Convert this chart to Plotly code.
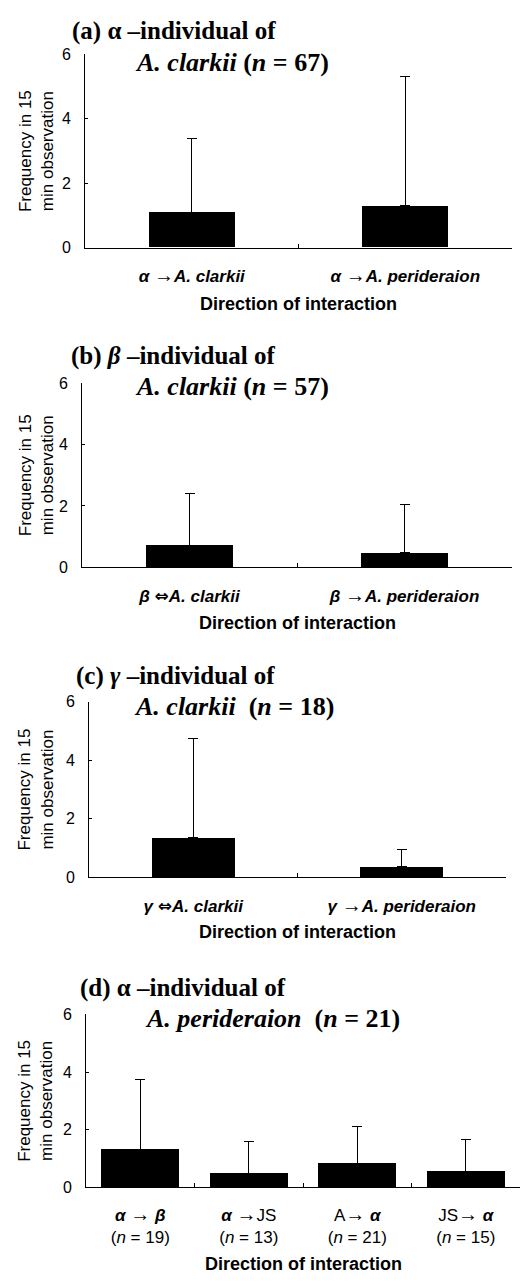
import plotly.graph_objects as go

W, H = 531, 1284

AR = "<span style='font-size:20px'>→</span>"
DA = "<span style='font-family:DejaVu Sans;font-size:17px'>⇔</span>"

# ---------------- data ----------------
cats_a = ["a→clarkii", "a→perideraion"]
mean_a = [1.1, 1.3]
sd_a = [2.3, 4.0]
labels_a = ["<b><i>α</i> " + AR + "<i>A. clarkii</i></b>",
            "<b><i>α</i> " + AR + "<i>A. perideraion</i></b>"]

cats_b = ["b⇔clarkii", "b→perideraion"]
mean_b = [0.72, 0.48]
sd_b = [1.69, 1.57]
labels_b = ["<b><i>β</i> " + DA + "<i>A. clarkii</i></b>",
            "<b><i>β</i> " + AR + "<i>A. perideraion</i></b>"]

cats_c = ["g⇔clarkii", "g→perideraion"]
mean_c = [1.36, 0.36]
sd_c = [3.38, 0.60]
labels_c = ["<b><i>γ</i> " + DA + "<i>A. clarkii</i></b>",
            "<b><i>γ</i> " + AR + "<i>A. perideraion</i></b>"]

cats_d = ["a→b", "a→JS", "A→a", "JS→a"]
mean_d = [1.31, 0.48, 0.82, 0.55]
sd_d = [2.43, 1.11, 1.29, 1.10]
labels_d = ["<b><i>α</i></b> " + AR + " <b><i>β</i></b><br>(<i>n</i> = 19)",
            "<b><i>α</i></b> " + AR + "JS<br>(<i>n</i> = 13)",
            "A" + AR + " <b><i>α</i></b><br>(<i>n</i> = 21)",
            "JS" + AR + " <b><i>α</i></b><br>(<i>n</i> = 15)"]

y_ticks = [0, 2, 4, 6]

titles1 = ["(a) α –individual of", "(b) <i>β</i> –individual of",
           "(c) <i>γ</i> –individual of", "(d) α –individual of"]
titles2 = ["<i>A. clarkii</i> (<i>n</i> = 67)", "<i>A. clarkii</i> (<i>n</i> = 57)",
           "<i>A. clarkii</i>  (<i>n</i> = 18)", "<i>A. perideraion</i>  (<i>n</i> = 21)"]
xtitle = "Direction of interaction"
ytitle = "Frequency in 15<br>min observation"

# ---------------- layout (pixel boxes in the page) ----------------
panels = [
    dict(cats=cats_a, mean=mean_a, sd=sd_a, labels=labels_a, x0=85, x1=512, top=47, bot=243,
         bw=0.405, t1=(70, 23), t2=(133, 55), xt=300, std=13),
    dict(cats=cats_b, mean=mean_b, sd=sd_b, labels=labels_b, x0=82, x1=512, top=380, bot=567,
         bw=0.405, t1=(69, 353), t2=(133, 384), xt=623, std=13),
    dict(cats=cats_c, mean=mean_c, sd=sd_c, labels=labels_c, x0=89, x1=506, top=703, bot=881,
         bw=0.40, t1=(74, 677), t2=(132, 708), xt=936, std=13),
    dict(cats=cats_d, mean=mean_d, sd=sd_d, labels=labels_d, x0=86, x1=520, top=1020, bot=1195,
         bw=0.72, t1=(78, 993), t2=(143, 1024), xt=1273, std=12),
]

def px(x):
    return x / W

def py(y):
    return 1 - y / H

fig = go.Figure()
ann = []
serif = "Liberation Serif"
sans = "Liberation Sans"

for i, p in enumerate(panels):
    k = "" if i == 0 else str(i + 1)
    fig.add_trace(go.Bar(
        x=p["cats"], y=p["mean"], width=p["bw"],
        marker=dict(color="black", line=dict(width=0)),
        error_y=dict(type="data", array=p["sd"], arrayminus=[0] * len(p["sd"]),
                     symmetric=False, color="black", thickness=1, width=5),
        xaxis="x" + k, yaxis="y" + k, showlegend=False,
    ))
    fig.update_layout({
        "xaxis" + k: dict(
            domain=[px(p["x0"]), px(p["x1"])], anchor="y" + k,
            type="category", tickvals=p["cats"], ticktext=p["labels"],
            tickson="boundaries", ticks="inside", ticklen=4, tickcolor="black",
            showline=True, linecolor="black", linewidth=1, showgrid=False,
            tickfont=dict(family=sans, size=17, color="black"),
            ticklabelstandoff=p["std"], range=[-0.5, len(p["cats"]) - 0.5],
            fixedrange=True,
        ),
        "yaxis" + k: dict(
            domain=[py(p["bot"]), py(p["top"])], anchor="x" + k,
            range=[0, 6], tickvals=y_ticks, ticks="inside", ticklen=3, tickcolor="black",
            showline=True, linecolor="black", linewidth=1, showgrid=False, zeroline=False,
            tickfont=dict(family=sans, size=16, color="black"), ticklabelstandoff=10,
            fixedrange=True,
        ),
    })
    ann.append(dict(x=px(p["t1"][0]), y=py(p["t1"][1]), xref="paper", yref="paper",
                    xanchor="left", yanchor="middle", showarrow=False, text="<b>" + titles1[i] + "</b>",
                    font=dict(family=serif, size=25, color="black")))
    ann.append(dict(x=px(p["t2"][0]), y=py(p["t2"][1]), xref="paper", yref="paper",
                    xanchor="left", yanchor="middle", showarrow=False, text="<b>" + titles2[i] + "</b>",
                    font=dict(family=serif, size=26, color="black")))
    ann.append(dict(x=px((p["x0"] + p["x1"]) / 2), y=py(p["xt"]), xref="paper", yref="paper",
                    xanchor="center", yanchor="middle", showarrow=False, text="<b>" + xtitle + "</b>",
                    font=dict(family=sans, size=18, color="black")))
    ann.append(dict(x=px(36), y=py((p["top"] + p["bot"]) / 2), xref="paper", yref="paper",
                    xanchor="center", yanchor="middle", showarrow=False, text=ytitle, textangle=-90,
                    font=dict(family=sans, size=17, color="black")))

fig.update_layout(
    width=W, height=H, margin=dict(l=0, r=0, t=0, b=0),
    paper_bgcolor="white", plot_bgcolor="white",
    annotations=ann, bargap=0,
)

fig.write_html("out.html", config={"displayModeBar": False},
               post_script="document.body.style.margin='0';document.body.style.overflow='hidden';")
